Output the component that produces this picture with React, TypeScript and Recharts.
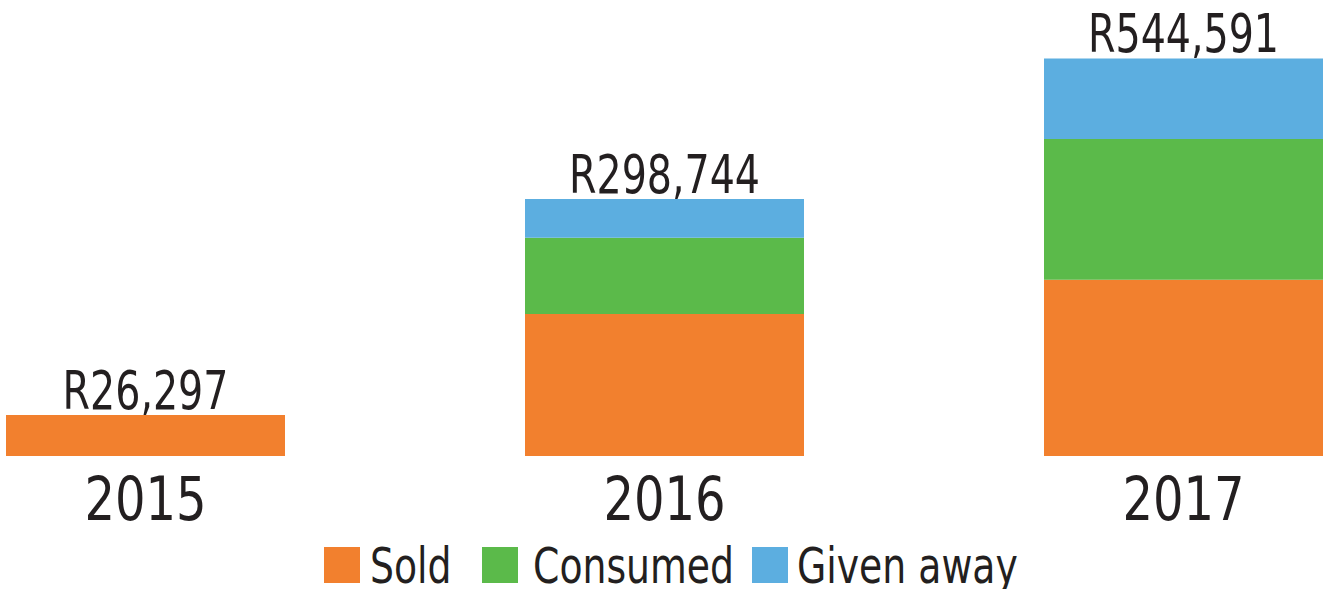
import React from 'react';
import { BarChart, Bar, XAxis, YAxis, Legend, LabelList } from 'recharts';

// Categories
const years = ['2015', '2016', '2017'];
// Segment values (Rand)
const sold = [56200, 194500, 241500];
const consumed = [0, 104500, 192700];
const givenAway = [0, 53000, 110400];
// Total labels printed above each bar
const totalLabels = ['R26,297', 'R298,744', 'R544,591'];
// Series names
const seriesNames = ['Sold', 'Consumed', 'Given away'];

const data = years.map((year, i) => ({
  year,
  sold: sold[i],
  consumed: consumed[i],
  givenAway: givenAway[i],
  label: totalLabels[i],
}));

const FONT = "'Liberation Sans Narrow', 'DejaVu Sans Condensed', 'Liberation Sans', sans-serif";
const INK = '#231f20';
const COLORS = ['#F2802E', '#5BBA4A', '#5CAEE0'];
const SQUEEZE = 0.84;

const YearTick = (props: any) => {
  const { x, y, payload } = props;
  return (
    <text
      transform={`translate(${x},${y + 64}) scale(0.89,1)`}
      x={0}
      y={0}
      textAnchor="middle"
      fontSize={60}
      fontFamily={FONT}
      fill={INK}
      style={{ fontStretch: 'condensed' }}
    >
      {payload.value}
    </text>
  );
};

// seriesIdx: which stacked series this label list belongs to; draw only on the topmost non-empty segment
const makeTotalLabel = (seriesIdx: number) => (props: any) => {
  const { x, y, width, value } = props;
  const i = totalLabels.indexOf(value);
  if (i < 0) return null;
  const segs = [sold[i], consumed[i], givenAway[i]];
  let top = -1;
  segs.forEach((v, k) => {
    if (v > 0) top = k;
  });
  if (top !== seriesIdx) return null;
  return (
    <text
      transform={`translate(${x + width / 2},${y - 6}) scale(0.83,1)`}
      x={0}
      y={0}
      textAnchor="middle"
      fontSize={53}
      fontFamily={FONT}
      fill={INK}
      style={{ fontStretch: 'condensed' }}
    >
      {value}
    </text>
  );
};

// legend layout (x positions of swatches / texts inside the 1557px-wide chart)
const legendSwatchX = [438, 596, 866];
const legendTextX = [484, 647, 911];

const LegendContent = () => (
  <svg width={1557} height={53} style={{ display: 'block', overflow: 'visible' }}>
    {seriesNames.map((name, i) => (
      <g key={name}>
        <rect x={legendSwatchX[i]} y={11} width={36} height={36} fill={COLORS[i]} />
        <text
          transform={`translate(${legendTextX[i]},47) scale(${SQUEEZE},1)`}
          x={0}
          y={0}
          fontSize={50}
          fontFamily={FONT}
          fill={INK}
          style={{ fontStretch: 'condensed' }}
        >
          {name}
        </text>
      </g>
    ))}
  </svg>
);

export default function App() {
  return (
    <div style={{ position: 'fixed', left: 0, top: 0, width: 1328, height: 589, overflow: 'hidden', background: '#fff' }}>
      <div style={{ position: 'absolute', left: -114, top: 0 }}>
        <BarChart width={1557} height={589} data={data} margin={{ top: 18, right: 0, bottom: 4, left: 0 }} barSize={279}>
          <XAxis
            dataKey="year"
            axisLine={false}
            tickLine={false}
            tickSize={0}
            tickMargin={0}
            height={80}
            interval={0}
            tick={<YearTick />}
          />
          <YAxis hide domain={[0, 600000]} />
          <Legend verticalAlign="bottom" height={49} content={<LegendContent />} />
          <Bar dataKey="sold" name={seriesNames[0]} stackId="a" fill={COLORS[0]} isAnimationActive={false}>
            <LabelList dataKey="label" content={makeTotalLabel(0)} />
          </Bar>
          <Bar dataKey="consumed" name={seriesNames[1]} stackId="a" fill={COLORS[1]} isAnimationActive={false}>
            <LabelList dataKey="label" content={makeTotalLabel(1)} />
          </Bar>
          <Bar dataKey="givenAway" name={seriesNames[2]} stackId="a" fill={COLORS[2]} isAnimationActive={false}>
            <LabelList dataKey="label" content={makeTotalLabel(2)} />
          </Bar>
        </BarChart>
      </div>
    </div>
  );
}
